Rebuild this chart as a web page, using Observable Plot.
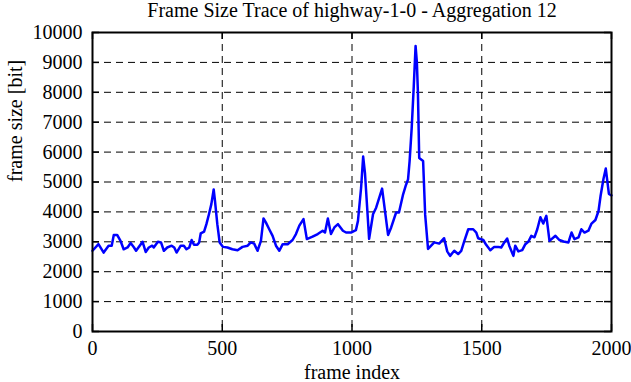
<!DOCTYPE html>
<html><head><meta charset="utf-8">
<script src="https://cdn.jsdelivr.net/npm/d3@7"></script>
<script src="https://cdn.jsdelivr.net/npm/@observablehq/plot@0.6"></script>
<style>body{margin:0;background:#fff}</style>
</head><body><div id="chart"></div>
<script>
const frames = [0,23,43,62,74,82,95,108,120,135,147,160,168,193,205,217,230,236,252,264,275,288,305,315,324,340,352,362,373,382,391,404,411,417,430,439,449,458,467,472,481,490,503,520,539,559,578,598,610,623,636,649,659,668,681,694,707,720,733,752,771,784,797,813,826,848,868,887,896,907,919,932,946,965,977,996,1015,1023,1035,1043,1050,1066,1081,1093,1116,1139,1151,1170,1181,1197,1208,1216,1222,1230,1238,1245,1250,1254,1259,1274,1282,1293,1305,1317,1336,1355,1367,1378,1394,1409,1421,1433,1448,1467,1479,1486,1506,1517,1533,1548,1564,1575,1587,1598,1606,1622,1629,1641,1656,1668,1680,1691,1703,1714,1726,1737,1749,1761,1784,1799,1815,1834,1846,1857,1873,1884,1896,1911,1923,1938,1950,1958,1969,1978,1990,2000];
const sizes = [2700,2920,2640,2870,2870,3230,3230,3030,2750,2810,2960,2810,2700,3000,2660,2810,2870,2810,3000,2980,2700,2810,2870,2810,2640,2870,2870,2750,2810,3060,2900,2900,2980,3280,3340,3590,3930,4260,4750,4370,3590,2980,2830,2810,2750,2720,2830,2870,2980,2940,2700,3030,3780,3650,3420,3200,2870,2700,2920,2920,3060,3260,3540,3760,3090,3170,3260,3370,3310,3780,3260,3480,3590,3370,3310,3310,3390,3700,4800,5850,5300,3100,3920,4140,4780,3230,3480,3980,3980,4590,4900,5090,5700,6800,8200,9550,9000,8000,5800,5700,3900,2760,2870,2980,2940,3120,2680,2530,2700,2590,2700,3030,3420,3420,3310,3120,3060,2900,2720,2830,2830,2810,2980,3110,2870,2530,2870,2680,2720,2920,3010,3200,3150,3420,3820,3610,3870,3030,3200,3060,3010,2980,3310,3090,3150,3420,3310,3370,3610,3730,4030,4540,5100,5450,4600,4550];
const xTicks = [0,500,1000,1500,2000];
const yTicks = [0,1000,2000,3000,4000,5000,6000,7000,8000,9000,10000];
const xGrid = [500,1000,1500];
const yGrid = [1000,2000,3000,4000,5000,6000,7000,8000,9000];
const title = "Frame Size Trace of highway-1-0 - Aggregation 12";
const xLabel = "frame index";
const yLabel = "frame size [bit]";

const data = frames.map((f,i)=>({frame:f,size:sizes[i]}));
const W=631,H=382,mL=92,mR=20,mT=32,mB=51;
const pw=W-mL-mR, ph=H-mT-mB;
const font = "'Liberation Serif','Times New Roman',serif";
const txt = {fontSize:20,fontFamily:font,fill:"#000"};
const chart = Plot.plot({
  width:W,height:H,marginLeft:mL,marginRight:mR,marginTop:mT,marginBottom:mB,
  style:{fontFamily:font,fontSize:"20px",color:"#000",background:"#fff"},
  x:{domain:[0,2000],axis:null}, y:{domain:[0,10000],axis:null},
  marks:[
    Plot.ruleY(yGrid,{stroke:"#000",strokeDasharray:"7,5",strokeWidth:1}),
    Plot.ruleX(xGrid,{stroke:"#000",strokeDasharray:"7,5",strokeWidth:1}),
    Plot.tickY(yTicks,{y:d=>d,insetRight:pw-7,stroke:"#000",strokeWidth:1.5}),
    Plot.tickY(yTicks,{y:d=>d,insetLeft:pw-7,stroke:"#000",strokeWidth:1.5}),
    Plot.tickX(xTicks,{x:d=>d,insetBottom:ph-7,stroke:"#000",strokeWidth:1.5}),
    Plot.tickX(xTicks,{x:d=>d,insetTop:ph-7,stroke:"#000",strokeWidth:1.5}),
    Plot.line(data,{x:"frame",y:"size",stroke:"#0000ff",strokeWidth:2.5}),
    Plot.frame({stroke:"#000",strokeWidth:2}),
    Plot.text(xTicks,{x:d=>d,text:d=>String(d),frameAnchor:"bottom",dy:17,lineAnchor:"middle",...txt}),
    Plot.text(yTicks,{y:d=>d,text:d=>String(d),frameAnchor:"left",dx:-10,textAnchor:"end",lineAnchor:"middle",...txt}),
    Plot.text([title],{frameAnchor:"top",dy:-22,lineAnchor:"middle",...txt}),
    Plot.text([xLabel],{frameAnchor:"bottom",dy:41,lineAnchor:"middle",...txt}),
    Plot.text([yLabel],{frameAnchor:"left",dx:-77,rotate:-90,lineAnchor:"middle",...txt})
  ]
});
document.getElementById("chart").appendChild(chart);
</script>
</body></html>
